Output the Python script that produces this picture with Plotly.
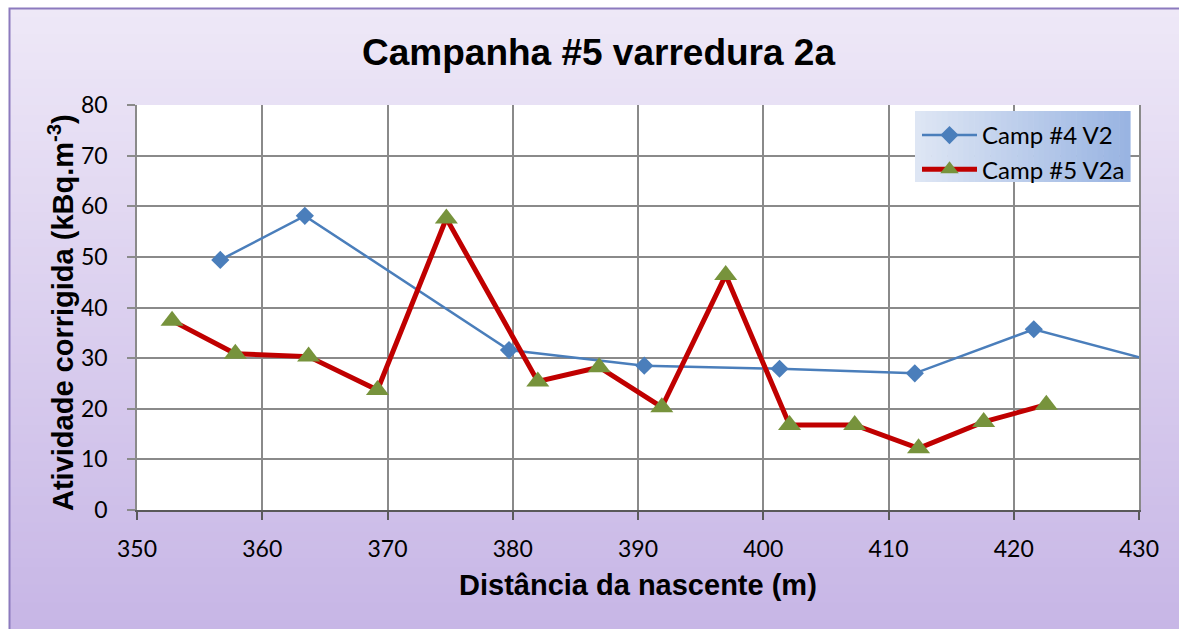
import plotly.graph_objects as go

# ---- data ----
camp4_x = [356.65, 363.4, 379.7, 390.5, 401.3, 412.1, 421.6, 432.4]
camp4_y = [49.4, 58.1, 31.6, 28.5, 27.9, 27.0, 35.7, 28.6]

camp5_x = [352.8, 357.85, 363.7, 369.2, 374.7, 382.0, 386.9, 391.9, 397.0, 402.1, 407.3, 412.4, 417.6, 422.6]
camp5_y = [37.4, 30.85, 30.3, 23.7, 57.6, 25.4, 28.2, 20.3, 46.4, 16.8, 16.8, 12.2, 17.4, 20.8]

x_ticks = [350, 360, 370, 380, 390, 400, 410, 420, 430]
y_ticks = [0, 10, 20, 30, 40, 50, 60, 70, 80]

title_text = "Campanha #5 varredura 2a"
x_title = "Distância da nascente (m)"
y_title = "Atividade corrigida (kBq.m<sup>-3</sup>)"
names = ["Camp #4 V2", "Camp #5 V2a"]

# ---- geometry (pixels) ----
W, H = 1179, 629
L, R, T, B = 137, 1139, 105, 510
pw, ph = R - L, B - T


def px_x(p):
    return (p - L) / pw


def px_y(p):
    return (B - p) / ph


def lerp(c1, c2, t):
    return "rgb(%d,%d,%d)" % tuple(round(a + (b - a) * t) for a, b in zip(c1, c2))


shapes = []
# chart background gradient (top light lavender -> bottom purple)
top_c, bot_c = (238, 232, 247), (199, 182, 230)
N = 70
y0p, y1p = 8, H
for i in range(N):
    a = y0p + (y1p - y0p) * i / N
    b = y0p + (y1p - y0p) * (i + 1) / N + 0.6
    shapes.append(dict(type="rect", xref="paper", yref="paper",
                       x0=px_x(9), x1=px_x(W + 40), y0=px_y(b), y1=px_y(a),
                       line=dict(width=0), fillcolor=lerp(top_c, bot_c, i / (N - 1)),
                       layer="below"))
# white surround (outside the chart frame, top and left)
shapes.append(dict(type="rect", xref="paper", yref="paper",
                   x0=px_x(-5), x1=px_x(9), y0=px_y(H + 40), y1=px_y(-5),
                   line=dict(width=0), fillcolor="white", layer="below"))
shapes.append(dict(type="rect", xref="paper", yref="paper",
                   x0=px_x(-5), x1=px_x(W + 40), y0=px_y(8), y1=px_y(-5),
                   line=dict(width=0), fillcolor="white", layer="below"))
# white plot area
shapes.append(dict(type="rect", xref="paper", yref="paper", x0=0, x1=1, y0=0, y1=1,
                   line=dict(width=0), fillcolor="white", layer="below"))
# chart frame border (left and top edges visible)
shapes.append(dict(type="rect", xref="paper", yref="paper",
                   x0=px_x(9.5), x1=px_x(W + 60), y0=px_y(H + 60), y1=px_y(8.5),
                   line=dict(color="rgb(140,122,190)", width=2), fillcolor="rgba(0,0,0,0)",
                   layer="below"))
# legend gradient box
lx0, lx1, ly0, ly1 = 915, 1130, 111, 182
M = 40
lc1, lc2 = (222, 230, 244), (153, 180, 226)
for i in range(M):
    a = lx0 + (lx1 - lx0) * i / M
    b = lx0 + (lx1 - lx0) * (i + 1) / M + 0.6
    shapes.append(dict(type="rect", xref="paper", yref="paper",
                       x0=px_x(a), x1=px_x(b), y0=px_y(ly1), y1=px_y(ly0),
                       line=dict(width=0), fillcolor=lerp(lc1, lc2, i / (M - 1)),
                       layer="above"))

fig = go.Figure()
fig.add_trace(go.Scatter(
    x=camp4_x, y=camp4_y, name=names[0], mode="lines+markers",
    line=dict(color="#4A7EBB", width=2.5),
    marker=dict(symbol="diamond", size=14, color="#4A7EBB"),
))
fig.add_trace(go.Scatter(
    x=camp5_x, y=camp5_y, name=names[1], mode="lines+markers",
    line=dict(color="#C00000", width=5),
    marker=dict(symbol="triangle-up", size=20, color="#77933C"),
))

fig.update_layout(
    width=W, height=H,
    margin=dict(l=L, r=W - R, t=T, b=H - B, autoexpand=False),
    paper_bgcolor="rgba(0,0,0,0)", plot_bgcolor="white",
    shapes=shapes,
    showlegend=True,
    legend=dict(x=px_x(lx0 + 2), y=px_y(ly0 + 2), xanchor="left", yanchor="top",
                bgcolor="rgba(0,0,0,0)", borderwidth=0,
                font=dict(family="Lato", size=24, color="black"),
                itemwidth=55, tracegroupgap=0),
    annotations=[
        dict(text="<b>%s</b>" % title_text, xref="paper", yref="paper",
             x=px_x(598), y=px_y(52), showarrow=False, xanchor="center", yanchor="middle",
             font=dict(family="Liberation Sans", size=37, color="black")),
        dict(text="<b>%s</b>" % x_title, xref="paper", yref="paper",
             x=px_x(638), y=px_y(585), showarrow=False, xanchor="center", yanchor="middle",
             font=dict(family="Liberation Sans", size=29, color="black")),
        dict(text="<b>%s</b>" % y_title, xref="paper", yref="paper",
             x=px_x(61), y=px_y(313), showarrow=False, xanchor="center", yanchor="middle",
             textangle=-90,
             font=dict(family="Liberation Sans", size=29, color="black")),
    ],
    font=dict(family="Lato", size=23, color="black"),
)

fig.update_xaxes(
    range=[350, 430], tickvals=x_ticks, ticktext=[str(v) for v in x_ticks],
    showgrid=True, gridcolor="#8a8a8a", gridwidth=1.5,
    showline=True, linecolor="#595959", linewidth=1.5,
    ticks="outside", ticklen=8, tickcolor="#595959", tickwidth=1.5,
    ticklabelstandoff=10, zeroline=False,
    tickfont=dict(family="Lato", size=23, color="black"),
)
fig.update_yaxes(
    range=[0, 80], tickvals=y_ticks, ticktext=[str(v) for v in y_ticks],
    showgrid=True, gridcolor="#8a8a8a", gridwidth=1.5,
    showline=True, linecolor="#8a8a8a", linewidth=1.5, mirror=True,
    ticks="outside", ticklen=8, tickcolor="#8a8a8a", tickwidth=1.5,
    ticklabelstandoff=15, zeroline=False,
    tickfont=dict(family="Lato", size=23, color="black"),
)

bg_css = "linear-gradient(to bottom, rgb(%d,%d,%d) 0px, rgb(%d,%d,%d) %dpx)" % (top_c + bot_c + (H,))
fig.write_html(
    "out.html",
    config={"displayModeBar": False},
    post_script=(
        "document.body.style.margin='0';"
        "document.body.style.overflow='hidden';"
        "document.documentElement.style.background='%s';"
        "document.body.style.background='%s';" % (bg_css, bg_css)
    ),
)
